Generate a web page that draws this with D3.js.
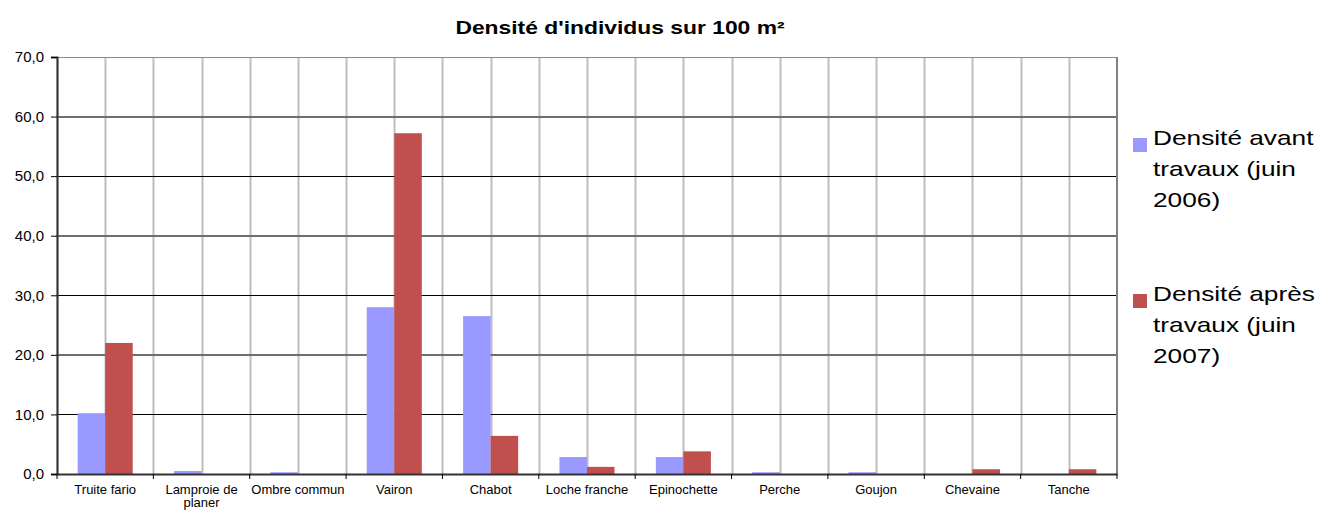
<!DOCTYPE html>
<html>
<head>
<meta charset="utf-8">
<script src="https://cdn.jsdelivr.net/npm/d3@7"></script>
<style>
  body { margin: 0; background: #fff; }
  svg { font-family: "Liberation Sans", Arial, sans-serif; }
</style>
</head>
<body>
<div id="chart"></div>
<script>
// data
var species = ["Truite fario", "Lamproie de planer", "Ombre commun", "Vairon", "Chabot",
  "Loche franche", "Epinochette", "Perche", "Goujon", "Chevaine", "Tanche"];
var avant = [10.2, 0.5, 0.3, 28.0, 26.5, 2.85, 2.85, 0.3, 0.3, 0, 0];
var apres = [22.0, 0, 0, 57.2, 6.4, 1.2, 3.8, 0, 0, 0.8, 0.8];
var yTicks = [0, 10, 20, 30, 40, 50, 60, 70];
var seriesNames = [["Densité avant", "travaux (juin", "2006)"], ["Densité après", "travaux (juin", "2007)"]];
var colors = ["#9999ff", "#c0504d"];

var W = 1319, H = 511;
var margin = { top: 57, right: 202, bottom: 37, left: 57 },
    width = W - margin.left - margin.right,
    height = H - margin.top - margin.bottom;

var svg = d3.select("#chart").append("svg")
    .attr("width", W).attr("height", H);

// title (the original text is drawn a bit wide)
svg.append("text")
    .attr("transform", "translate(620,34) scale(1.27,1)")
    .attr("text-anchor", "middle")
    .style("font-size", "18px").style("font-weight", "bold")
    .text("Densité d'individus sur 100 m²");

var g = svg.append("g").attr("transform", "translate(" + margin.left + "," + margin.top + ")");

var x = d3.scaleBand().domain(species).range([0, width]);
var y = d3.scaleLinear().domain([0, 70]).range([height, 0]);

// vertical grid: band edges and centers
var vlines = [];
species.forEach(function (s) { vlines.push(x(s)); vlines.push(x(s) + x.bandwidth() / 2); });
g.append("g").selectAll("line").data(vlines).enter().append("line")
    .attr("x1", function (d) { return Math.round(d) + 0.5; })
    .attr("x2", function (d) { return Math.round(d) + 0.5; })
    .attr("y1", 0).attr("y2", height)
    .attr("stroke", "#bdbdbd").attr("stroke-width", 2);

// horizontal grid
g.append("g").selectAll("line").data(yTicks.slice(1)).enter().append("line")
    .attr("x1", 0).attr("x2", width)
    .attr("y1", function (d) { return d % 20 === 0 ? Math.round(y(d)) : Math.round(y(d)) + 0.5; })
    .attr("y2", function (d) { return d % 20 === 0 ? Math.round(y(d)) : Math.round(y(d)) + 0.5; })
    .attr("stroke", function (d) { return d === 70 ? "#8a8a8a" : (d % 20 === 0 ? "#6e6e6e" : "#000"); })
    .attr("stroke-width", function (d) { return d % 10 === 0 && d % 20 !== 0 ? 1 : 2; });

// right border
g.append("line").attr("x1", width).attr("x2", width).attr("y1", 0).attr("y2", height)
    .attr("stroke", "#808080").attr("stroke-width", 2);

// bars
var inner = d3.scaleBand().domain([0, 1]).range([0, x.bandwidth()]).paddingInner(0).paddingOuter(0.75);
[avant, apres].forEach(function (vals, k) {
  g.append("g").selectAll("rect").data(species).enter().append("rect")
      .attr("x", function (d) { return x(d) + inner(k); })
      .attr("width", inner.bandwidth())
      .attr("y", function (d, i) { return y(vals[i]); })
      .attr("height", function (d, i) { return height - y(vals[i]); })
      .attr("fill", colors[k]);
});

// y axis
var yAxis = g.append("g")
    .call(d3.axisLeft(y).tickValues(yTicks).tickSize(6).tickFormat(function (d) { return d3.format(".1f")(d).replace(".", ","); }));
yAxis.select(".domain").attr("stroke", "#333").attr("stroke-width", 2);
yAxis.selectAll(".tick line").attr("stroke", "#000");
yAxis.selectAll(".tick text").style("font-size", "15px").attr("fill", "#000").attr("x", -13);

// x axis
var xAxis = g.append("g").attr("transform", "translate(0," + height + ")")
    .call(d3.axisBottom(x).tickSize(0).tickSizeOuter(0));
xAxis.select(".domain").attr("stroke", "#333").attr("stroke-width", 2);
xAxis.selectAll(".tick text").remove();
xAxis.selectAll(".tick").each(function (d) {
  var t = d3.select(this);
  var words = d === "Lamproie de planer" ? ["Lamproie de", "planer"] : [d];
  var txt = t.append("text").attr("fill", "#000").attr("text-anchor", "middle")
      .style("font-size", "13px").attr("y", 20);
  words.forEach(function (w, i) { txt.append("tspan").attr("x", 0).attr("dy", i === 0 ? 0 : 13).text(w); });
});
// boundary ticks below x axis
g.append("g").selectAll("line").data(species.map(function (s) { return x(s); }).concat([width])).enter().append("line")
    .attr("x1", function (d) { return d; }).attr("x2", function (d) { return d; })
    .attr("y1", height).attr("y2", height + 5)
    .attr("stroke", "#000");

// legend
var legend = svg.append("g");
[138, 294].forEach(function (top, k) {
  legend.append("rect").attr("x", 1133).attr("y", top).attr("width", 14).attr("height", 14).attr("fill", colors[k]);
  var t = legend.append("text").attr("transform", "translate(1153," + (top + 7) + ") scale(1.25,1)")
      .style("font-size", "21px").attr("fill", "#000");
  seriesNames[k].forEach(function (line, i) {
    t.append("tspan").attr("x", 0).attr("dy", i === 0 ? 0 : 31).text(line);
  });
});
</script>
</body>
</html>
